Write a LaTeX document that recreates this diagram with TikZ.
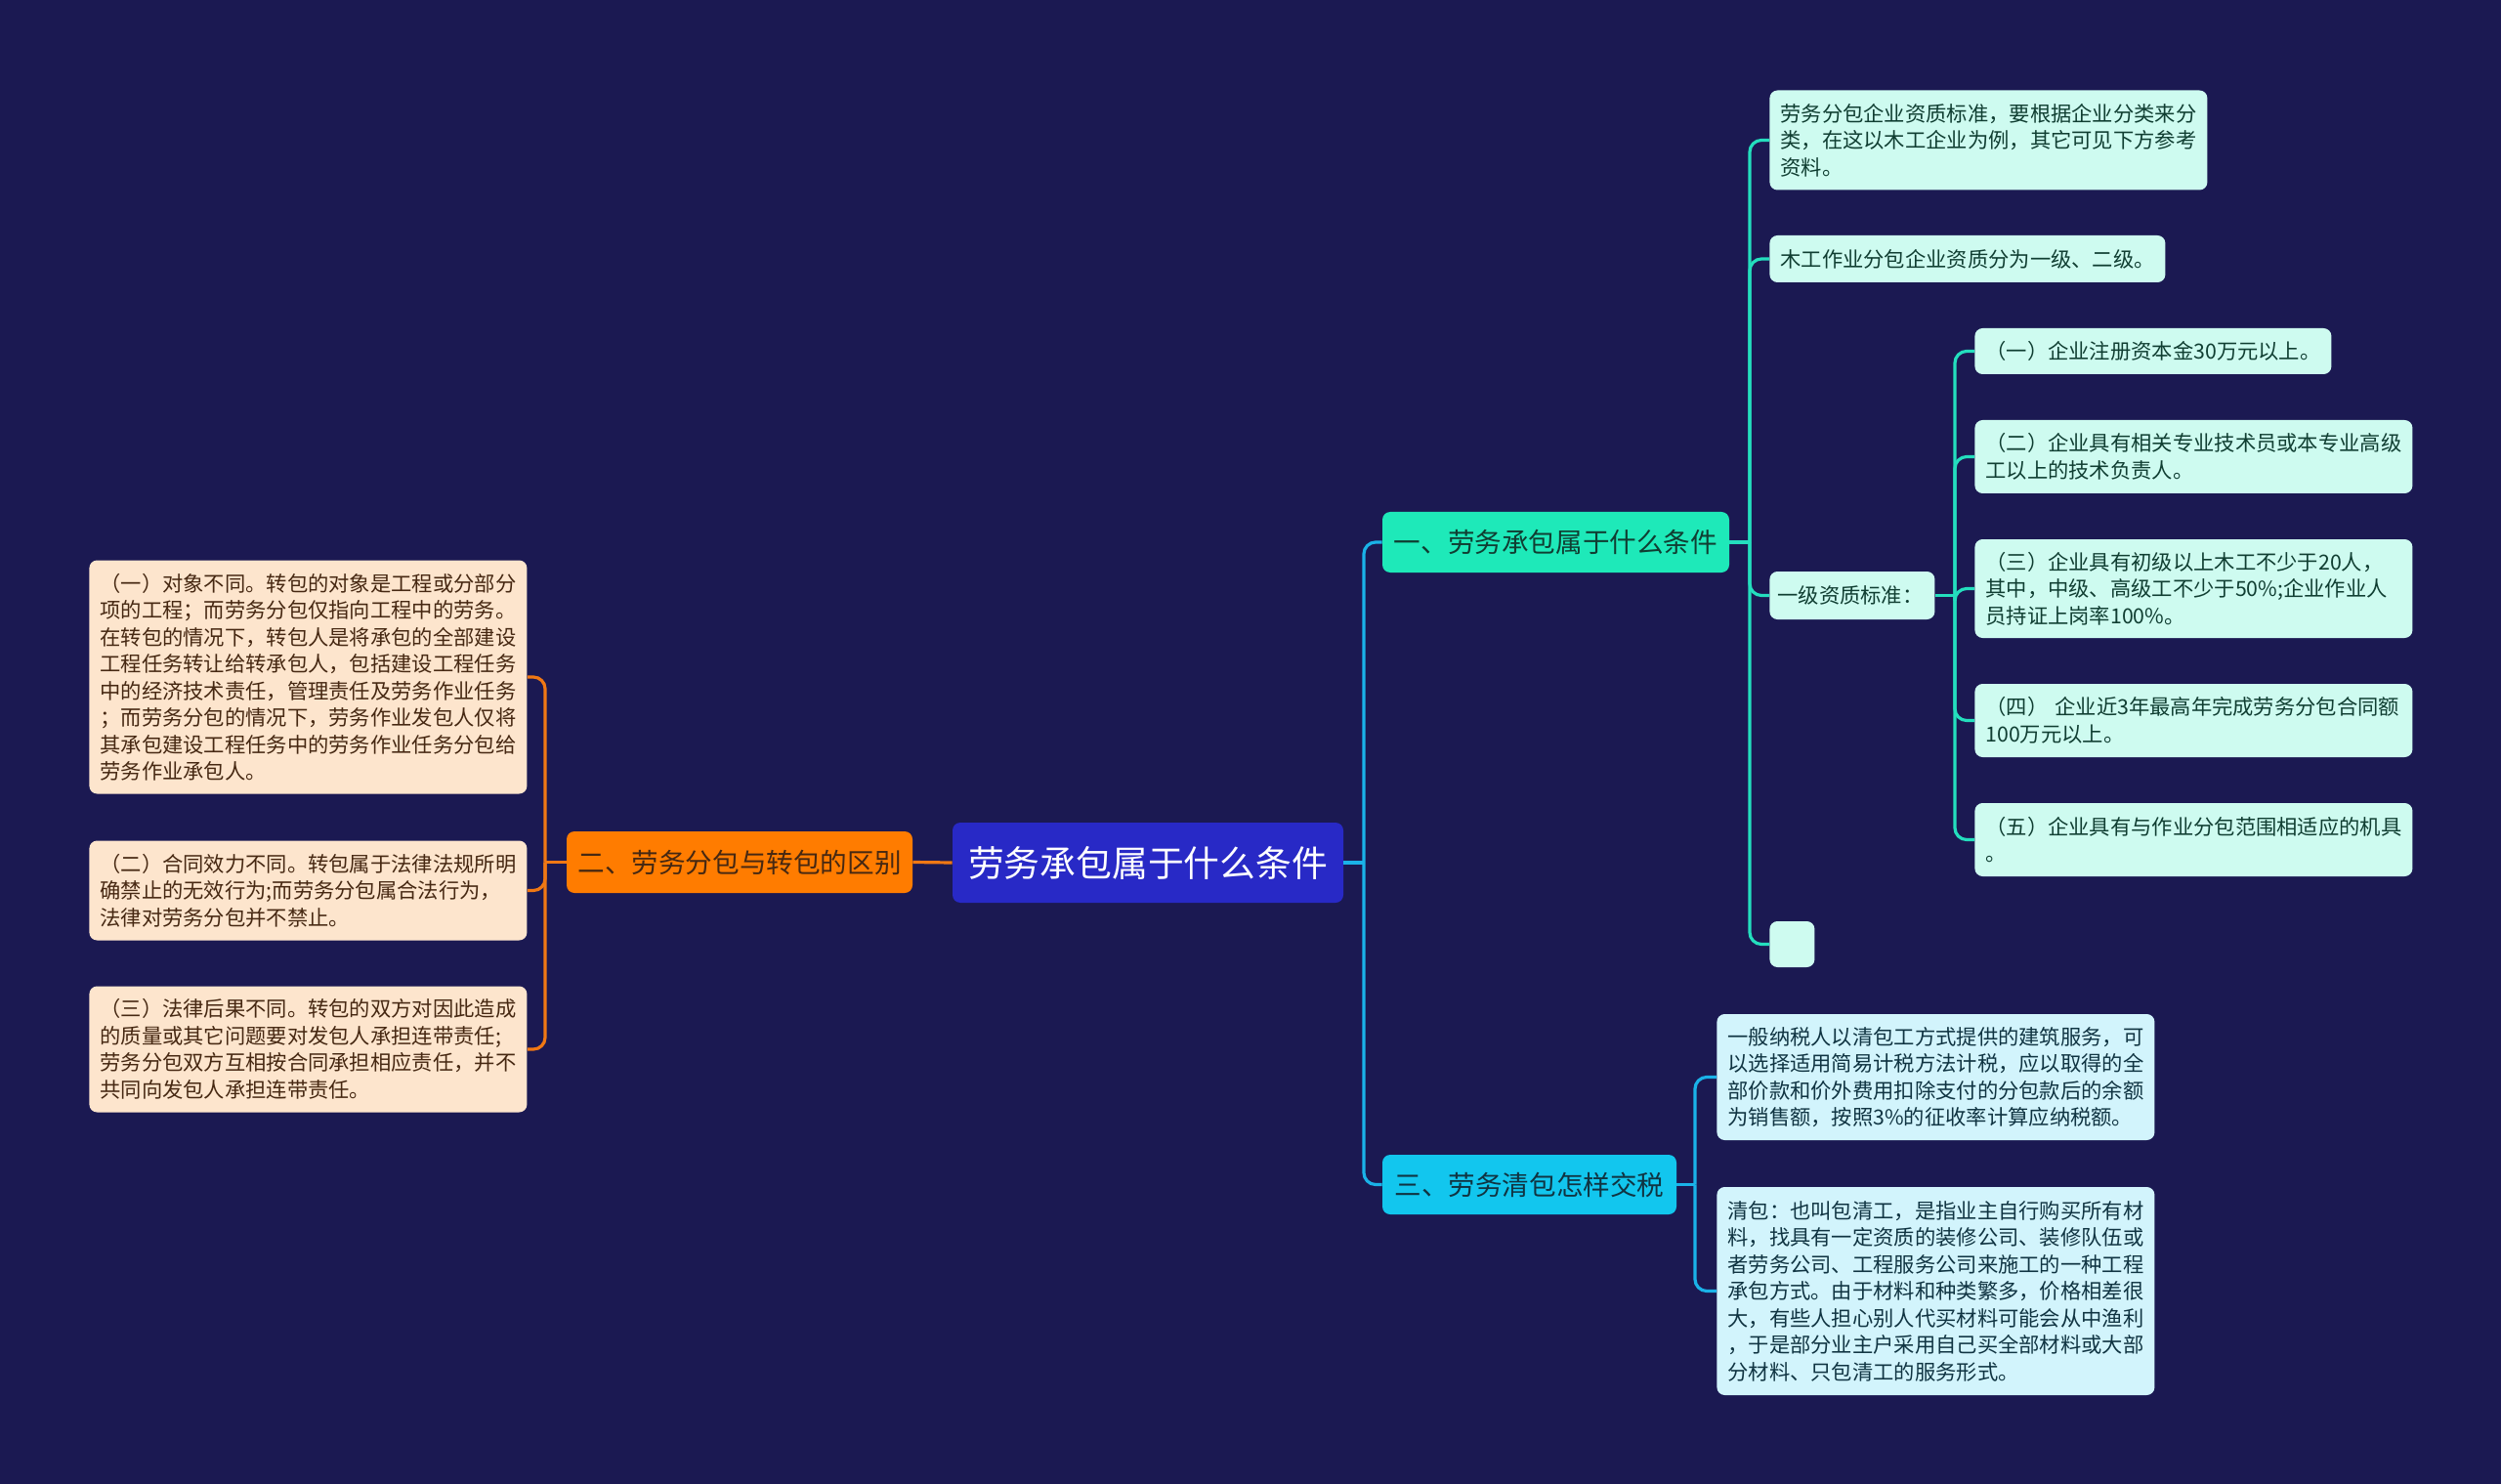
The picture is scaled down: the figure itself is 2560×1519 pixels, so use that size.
\documentclass[tikz,border=0pt]{standalone}
\usepackage{fontspec}
\setmainfont{Noto Sans CJK SC}
\definecolor{bg}{RGB}{27,25,82}
\definecolor{rootc}{RGB}{40,41,198}
\definecolor{orangec}{RGB}{255,124,0}
\definecolor{peach}{RGB}{253,229,205}
\definecolor{tealc}{RGB}{30,233,185}
\definecolor{mint}{RGB}{206,251,240}
\definecolor{cyanc}{RGB}{18,198,238}
\definecolor{lcyan}{RGB}{210,244,252}
\definecolor{trunkc}{RGB}{26,178,232}
\definecolor{tealline}{RGB}{36,222,190}
\definecolor{orangeline}{RGB}{240,120,20}
\definecolor{brownt}{RGB}{70,40,18}
\definecolor{greent}{RGB}{16,62,50}
\definecolor{bluet}{RGB}{16,52,66}
\tikzset{
  boxbase/.style={rounded corners=4pt, inner xsep=5.5pt, inner ysep=0pt, align=left, anchor=west,
    font=\fontsize{10.65pt}{13.75pt}\selectfont},
  peachbox/.style={boxbase, fill=peach, text=brownt},
  mintbox/.style={boxbase, fill=mint, text=greent},
  cyanbox/.style={boxbase, fill=lcyan, text=bluet},
  mainbox/.style={rounded corners=4pt, inner sep=0pt, anchor=center, font=\fontsize{13.8pt}{16pt}\selectfont},
  lnk/.style={line width=1.6pt, rounded corners=6pt},
}
\begin{document}
\begin{tikzpicture}[x=0.5pt,y=-0.5pt]
\fill[bg] (0,0) rectangle (2560,1519);
\useasboundingbox (0,0) rectangle (2560,1519);

% central and main branches
\node[mainbox, fill=rootc, text=white, minimum width=200pt, minimum height=41pt,
  font=\fontsize{18.4pt}{20pt}\selectfont] (root) at (1175,883) {劳务承包属于什么条件};
\node[mainbox, fill=orangec, text=brownt, minimum width=177pt, minimum height=31.5pt] (b2) at (757,882.5) {二、劳务分包与转包的区别};
\node[mainbox, fill=tealc, text=greent, minimum width=177.5pt, minimum height=31pt] (b1) at (1592.5,555) {一、劳务承包属于什么条件};
\node[mainbox, fill=cyanc, text=bluet, minimum width=150.5pt, minimum height=30.5pt] (b3) at (1565.5,1212.5) {三、劳务清包怎样交税};

% left leaves
\node[peachbox, minimum width=223pt, minimum height=119.5pt, text width=213pt] (l1) at (91,693) {（一）对象不同。转包的对象是工程或分部分\\项的工程；而劳务分包仅指向工程中的劳务。\\在转包的情况下，转包人是将承包的全部建设\\工程任务转让给转承包人，包括建设工程任务\\中的经济技术责任，管理责任及劳务作业任务\\；而劳务分包的情况下，劳务作业发包人仅将\\其承包建设工程任务中的劳务作业任务分包给\\劳务作业承包人。};
\node[peachbox, minimum width=223pt, minimum height=51pt, text width=213pt] (l2) at (91,911.5) {（二）合同效力不同。转包属于法律法规所明\\确禁止的无效行为;而劳务分包属合法行为，\\法律对劳务分包并不禁止。};
\node[peachbox, minimum width=223pt, minimum height=64.5pt, text width=213pt] (l3) at (91,1074) {（三）法律后果不同。转包的双方对因此造成\\的质量或其它问题要对发包人承担连带责任;\\劳务分包双方互相按合同承担相应责任，并不\\共同向发包人承担连带责任。};

% branch one leaves
\node[mintbox, minimum width=223.5pt, minimum height=51pt, text width=213pt] (r1a) at (1811,143.5) {劳务分包企业资质标准，要根据企业分类来分\\类，在这以木工企业为例，其它可见下方参考\\资料。};
\node[mintbox, minimum width=202.5pt, minimum height=24pt, text width=191.5pt] (r1b) at (1811,265) {木工作业分包企业资质分为一级、二级。};
\node[mintbox, inner xsep=4pt, minimum width=84.5pt, minimum height=24.5pt, text width=76.5pt] (r1c) at (1811,609.5) {一级资质标准：};
\node[mintbox, minimum width=23pt, minimum height=23.5pt, inner xsep=0pt] (r1d) at (1811,966.5) {};

\node[mintbox, minimum width=182.5pt, minimum height=23.5pt, text width=171.5pt] (c1) at (2021,359.5) {（一）企业注册资本金30万元以上。};
\node[mintbox, minimum width=223.5pt, minimum height=37.5pt, text width=213pt] (c2) at (2021,467.5) {（二）企业具有相关专业技术员或本专业高级\\工以上的技术负责人。};
\node[mintbox, minimum width=223.5pt, minimum height=50.5pt, text width=213pt] (c3) at (2021,602.5) {（三）企业具有初级以上木工不少于20人，\\其中，中级、高级工不少于50\%;企业作业人\\员持证上岗率100\%。};
\node[mintbox, minimum width=223.5pt, minimum height=37.5pt, text width=213pt] (c4) at (2021,737.5) {（四） 企业近3年最高年完成劳务分包合同额\\100万元以上。};
\node[mintbox, minimum width=223.5pt, minimum height=37.5pt, text width=213pt] (c5) at (2021,859.5) {（五）企业具有与作业分包范围相适应的机具\\。};

% branch three leaves
\node[cyanbox, minimum width=223pt, minimum height=64.5pt, text width=213pt] (r3a) at (1757,1102.5) {一般纳税人以清包工方式提供的建筑服务，可\\以选择适用简易计税方法计税，应以取得的全\\部价款和价外费用扣除支付的分包款后的余额\\为销售额，按照3\%的征收率计算应纳税额。};
\node[cyanbox, minimum width=223pt, minimum height=106.5pt, text width=213pt] (r3b) at (1757,1321.5) {清包：也叫包清工，是指业主自行购买所有材\\料，找具有一定资质的装修公司、装修队伍或\\者劳务公司、工程服务公司来施工的一种工程\\承包方式。由于材料和种类繁多，价格相差很\\大，有些人担心别人代买材料可能会从中渔利\\，于是部分业主户采用自己买全部材料或大部\\分材料、只包清工的服务形式。};

% junction coordinates
\coordinate (jr) at (1396,883);
\coordinate (jl) at (558,882.5);
\coordinate (j1) at (1791,555);
\coordinate (jc) at (2001,609.5);
\coordinate (j3) at (1735,1212.5);

% connectors: root
\draw[lnk, trunkc] (root.east) -- (jr);
\draw[lnk, trunkc] (jr) |- (b1.west);
\draw[lnk, trunkc] (jr) |- (b3.west);
\draw[lnk, orangeline] (root.west) -- (b2.east);

% left branch
\draw[lnk, orangeline] (b2.west) -- (jl);
\draw[lnk, orangeline] (jl) |- (l1.east);
\draw[lnk, orangeline] (jl) |- (l2.east);
\draw[lnk, orangeline] (jl) |- (l3.east);

% branch one
\draw[lnk, tealline] (b1.east) -- (j1);
\draw[lnk, tealline] (j1) |- (r1a.west);
\draw[lnk, tealline] (j1) |- (r1b.west);
\draw[lnk, tealline] (j1) |- (r1c.west);
\draw[lnk, tealline] (j1) |- (r1d.west);
\draw[lnk, tealline] (r1c.east) -- (jc);
\draw[lnk, tealline] (jc) |- (c1.west);
\draw[lnk, tealline] (jc) |- (c2.west);
\draw[lnk, tealline] (jc) |- (c3.west);
\draw[lnk, tealline] (jc) |- (c4.west);
\draw[lnk, tealline] (jc) |- (c5.west);

% branch three
\draw[lnk, trunkc] (b3.east) -- (j3);
\draw[lnk, trunkc] (j3) |- (r3a.west);
\draw[lnk, trunkc] (j3) |- (r3b.west);
\end{tikzpicture}
\end{document}
